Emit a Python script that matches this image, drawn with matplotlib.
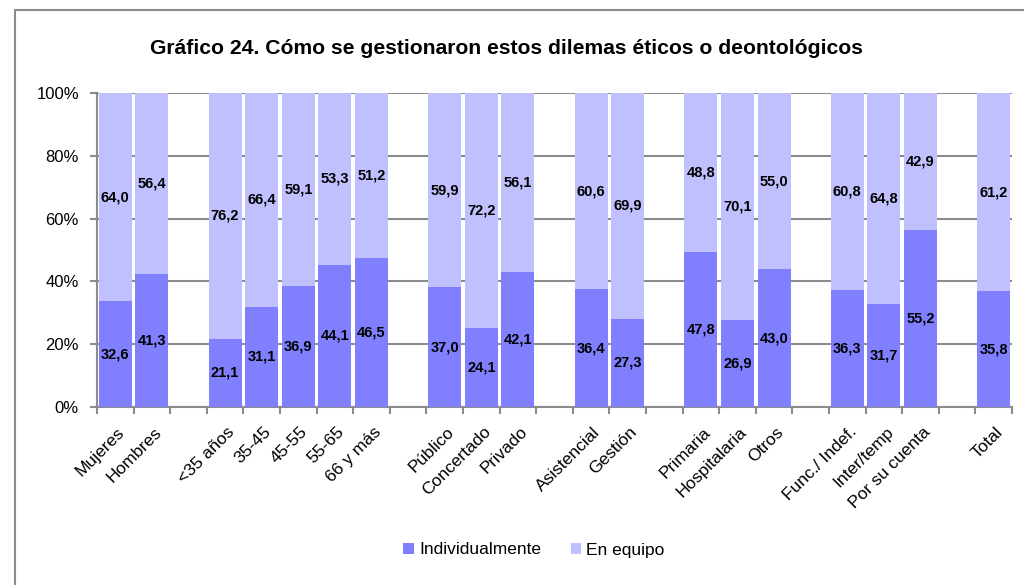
import matplotlib
matplotlib.use("Agg")
import matplotlib.pyplot as plt
from matplotlib.patches import Rectangle
from matplotlib import font_manager
import numpy as np

categories = ["Mujeres", "Hombres", None,
              "<35 años", "35-45", "45-55", "55-65", "66 y más", None,
              "Público", "Concertado", "Privado", None,
              "Asistencial", "Gestión", None,
              "Primaria", "Hospitalaria", "Otros", None,
              "Func./ Indef.", "Inter/temp", "Por su cuenta", None,
              "Total"]
individual = [32.6, 41.3, 21.1, 31.1, 36.9, 44.1, 46.5, 37.0, 24.1, 42.1,
              36.4, 27.3, 47.8, 26.9, 43.0, 36.3, 31.7, 55.2, 35.8]
equipo = [64.0, 56.4, 76.2, 66.4, 59.1, 53.3, 51.2, 59.9, 72.2, 56.1,
          60.6, 69.9, 48.8, 70.1, 55.0, 60.8, 64.8, 42.9, 61.2]
yticks = [0, 20, 40, 60, 80, 100]
title = "Gráfico 24. Cómo se gestionaron estos dilemas éticos o deontológicos"
series_names = ["Individualmente", "En equipo"]

names = {f.name for f in font_manager.fontManager.ttflist}
narrow = "Liberation Sans Narrow" if "Liberation Sans Narrow" in names else None
plt.rcParams['font.family'] = ['Liberation Sans', 'DejaVu Sans']

c_ind = "#8080FF"
c_eq = "#C0C0FF"
grid_c = "#8C8C8C"

fig = plt.figure(figsize=(10.24, 5.85), dpi=100)
ax = fig.add_axes([97/1024, 1 - 407/585, (1012 - 97)/1024, (407 - 93)/585])

slots = [i for i, c in enumerate(categories) if c is not None]
ind = np.array(individual)
eq = np.array(equipo)
tot = ind + eq
p_ind = ind / tot * 100
p_eq = eq / tot * 100
x = np.array(slots) + 0.5

ax.bar(x, p_ind, width=0.9, color=c_ind, label=series_names[0], zorder=3)
ax.bar(x, p_eq, width=0.9, bottom=p_ind, color=c_eq, label=series_names[1], zorder=3)

lab_kw = dict(ha="center", va="center", fontweight="bold", zorder=4)
if narrow:
    lab_kw.update(family=narrow, fontsize=11.5)
else:
    lab_kw.update(fontsize=10.5)
for xi, a, b, va, vb in zip(x, p_ind, p_eq, ind, eq):
    ax.text(xi, a / 2, f"{va:.1f}".replace(".", ","), **lab_kw)
    ax.text(xi, a + b / 2, f"{vb:.1f}".replace(".", ","), **lab_kw)

ax.set_xlim(0, len(categories))
ax.set_ylim(0, 100)
ax.set_yticks(yticks)
ax.set_yticklabels([f"{v}%" for v in yticks], fontsize=12)
ax.yaxis.grid(True, color=grid_c, linewidth=1.5, zorder=0)
ax.set_axisbelow(True)

ax.set_xticks(range(len(categories) + 1))
ax.set_xticklabels([])
ax.tick_params(axis="x", length=5, color=grid_c, width=1.5)
ax.tick_params(axis="y", length=5, color=grid_c, width=1.5, pad=8)

for xi, c in zip(x, [c for c in categories if c is not None]):
    ax.text(xi + 0.05, -5.5, c, rotation=45, ha="right", va="top",
            rotation_mode="anchor", fontsize=12.5, transform=ax.transData)

for s in ["top", "right"]:
    ax.spines[s].set_visible(False)
for s in ["left", "bottom"]:
    ax.spines[s].set_color(grid_c)
    ax.spines[s].set_linewidth(1.5)

if narrow:
    fig.text(506/1024, 1 - 48/585, title, ha="center", va="center",
             fontsize=17, fontweight="bold", family=narrow)
else:
    fig.text(506/1024, 1 - 48/585, title, ha="center", va="center",
             fontsize=15.2, fontweight="bold")

leg = fig.legend(loc="center", bbox_to_anchor=(534/1024, 1 - 550/585), ncol=2,
                 frameon=False, fontsize=12.5, handlelength=0.6, handleheight=0.6,
                 columnspacing=1.7, handletextpad=0.3)

fig.patches.append(Rectangle((15/1024, -0.1), 1.2, 1 - 10/585 + 0.1,
                             transform=fig.transFigure, fill=False,
                             edgecolor="#8C8C8C", linewidth=1.5))

fig.savefig("out.png", dpi=100)
